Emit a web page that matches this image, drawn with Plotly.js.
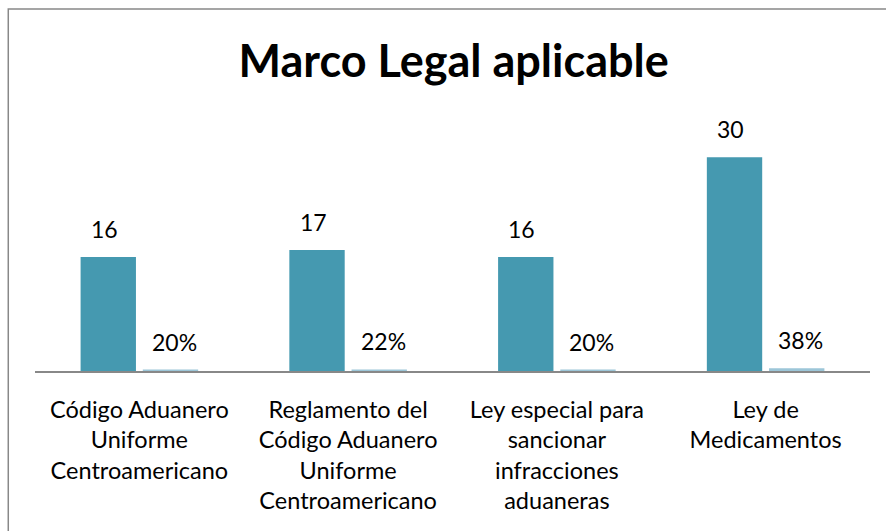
<!DOCTYPE html>
<html>
<head>
<meta charset="utf-8">
<script src="https://cdn.plot.ly/plotly-3.0.1.min.js"></script>
<style>html,body{margin:0;padding:0;background:#fff;}#chart{width:886px;height:531px;}</style>
</head>
<body>
<div id="chart"></div>
<script>
const categories = [
  "Código Aduanero<br>Uniforme<br>Centroamericano",
  "Reglamento del<br>Código Aduanero<br>Uniforme<br>Centroamericano",
  "Ley especial para<br>sancionar<br>infracciones<br>aduaneras",
  "Ley de<br>Medicamentos"
];
const counts = [16, 17, 16, 30];
const shares = [0.20, 0.22, 0.20, 0.38];
const countLabels = ["16", "17", "16", "30"];
const shareLabels = ["20%", "22%", "20%", "38%"];

const FONT = "Lato, 'Open Sans', sans-serif";

const traces = [
  {type: "bar", x: categories, y: counts, marker: {color: "#4599B0"}, hoverinfo: "none"},
  {type: "bar", x: categories, y: shares, marker: {color: "#9CC6D8"}, hoverinfo: "none"}
];

const annotations = [];
categories.forEach((c, i) => {
  annotations.push({x: c, y: counts[i], xref: "x", yref: "y", text: countLabels[i], showarrow: false,
    xanchor: "center", yanchor: "bottom", xshift: -35, yshift: 12, font: {family: FONT, size: 23, color: "#000"}});
  annotations.push({x: c, y: shares[i], xref: "x", yref: "y", text: shareLabels[i], showarrow: false,
    xanchor: "center", yanchor: "bottom", xshift: 35, yshift: 12, font: {family: FONT, size: 23, color: "#000"}});
});

const layout = {
  width: 886, height: 531,
  paper_bgcolor: "#fff", plot_bgcolor: "#fff",
  margin: {l: 35, r: 16, t: 143, b: 160},
  showlegend: false,
  barmode: "group", bargap: 0.404, bargroupgap: 0.11,
  title: {text: "<b>Marco Legal aplicable</b>", x: 0.512, xanchor: "center", y: 0.885, yanchor: "middle",
    font: {family: FONT, size: 45, color: "#000"}},
  xaxis: {showline: true, linecolor: "#888", linewidth: 1.5, showgrid: false, zeroline: false,
    ticks: "outside", ticklen: 17, tickcolor: "rgba(0,0,0,0)",
    tickfont: {family: FONT, size: 23.5, color: "#000"}, tickangle: 0},
  yaxis: {range: [0, 32], visible: false, showgrid: false, zeroline: false},
  annotations: annotations,
  shapes: [{type: "rect", xref: "paper", yref: "paper", x0: -0.032, x1: 1.2, y0: -0.9, y1: 1.588,
    line: {color: "#888", width: 1.5}, fillcolor: "rgba(0,0,0,0)"}]
};

Plotly.newPlot("chart", traces, layout, {displayModeBar: false, staticPlot: true});
</script>
</body>
</html>
